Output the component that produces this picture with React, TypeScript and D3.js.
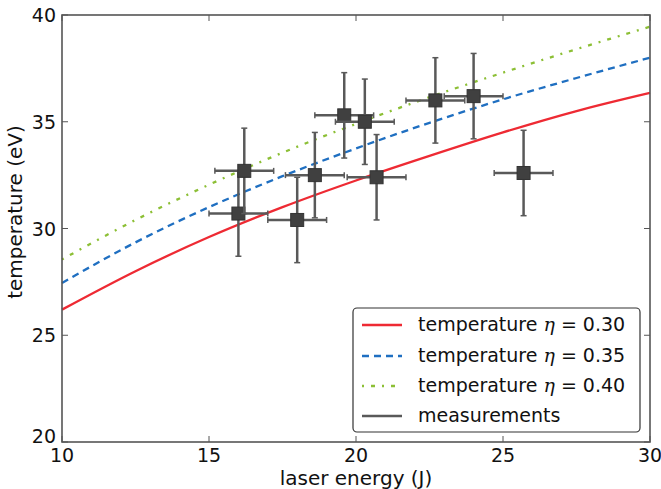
import * as d3 from 'd3'

// measured points (laser energy J, temperature eV)
const energy = [16.0, 16.2, 18.0, 18.6, 19.6, 20.3, 20.7, 22.7, 24.0, 25.7]
const temperature = [30.7, 32.7, 30.4, 32.5, 35.3, 35.0, 32.4, 36.0, 36.2, 32.6]
const energyErr = 1
const tempErr = 2

// model curves
const curveEnergy = [10, 12.5, 15, 17.5, 20, 22.5, 25, 27.5, 30]
const tempEta30 = [26.2, 28.0, 29.6, 31.0, 32.25, 33.4, 34.5, 35.5, 36.35]
const tempEta35 = [27.45, 29.35, 31.0, 32.45, 33.75, 34.95, 36.05, 37.05, 38.0]
const tempEta40 = [28.55, 30.4, 32.05, 33.55, 34.9, 36.15, 37.3, 38.4, 39.45]

const xTicks = [10, 15, 20, 25, 30]
const yTicks = [20, 25, 30, 35, 40]

const series = [
  { eta: '0.30', values: tempEta30, color: '#ee2a33', dash: '' },
  { eta: '0.35', values: tempEta35, color: '#1f6fc1', dash: '7,5' },
  { eta: '0.40', values: tempEta40, color: '#8cbf35', dash: '2,7,4,7' },
]

const W = 661
const H = 489
const margin = { top: 15, right: 11, bottom: 47, left: 62 }
const font = '"DejaVu Sans", sans-serif'

export default function App() {
  const x = d3.scaleLinear().domain([10, 30]).range([margin.left, W - margin.right])
  const y = d3.scaleLinear().domain([20, 40]).range([H - margin.bottom, margin.top])
  const line = d3.line<[number, number]>()
    .x((d) => x(d[0])).y((d) => y(d[1]))
    .curve(d3.curveMonotoneX)

  const frameColor = '#555'
  const legend = { x: 353, y: 308, w: 287, h: 124 }
  const rowY = [325, 356, 386, 416]

  return (
    <svg width={W} height={H} style={{ position: 'absolute', left: 0, top: 0, background: '#fff' }}>
      {/* model curves */}
      {series.map((s) => (
        <path key={s.eta}
          d={line(curveEnergy.map((e, i) => [e, s.values[i]] as [number, number])) ?? ''}
          fill="none" stroke={s.color} strokeWidth={2.3} strokeDasharray={s.dash} />
      ))}

      {/* error bars and markers */}
      {energy.map((e, i) => {
        const cx = x(e), cy = y(temperature[i])
        const x0 = x(e - energyErr), x1 = x(e + energyErr)
        const y0 = y(temperature[i] - tempErr), y1 = y(temperature[i] + tempErr)
        return (
          <g key={i} stroke="#595959" strokeWidth={2.5}>
            <line x1={x0} x2={x1} y1={cy} y2={cy} />
            <line x1={cx} x2={cx} y1={y0} y2={y1} />
            <line x1={x0} x2={x0} y1={cy - 3} y2={cy + 3} strokeWidth={1.5} />
            <line x1={x1} x2={x1} y1={cy - 3} y2={cy + 3} strokeWidth={1.5} />
            <line x1={cx - 3} x2={cx + 3} y1={y0} y2={y0} strokeWidth={1.5} />
            <line x1={cx - 3} x2={cx + 3} y1={y1} y2={y1} strokeWidth={1.5} />
            <rect x={cx - 6.5} y={cy - 6.5} width={13} height={13} fill="#404040" stroke="#333" strokeWidth={1} />
          </g>
        )
      })}

      {/* ticks on all sides */}
      {xTicks.map((t) => (
        <g key={'x' + t} stroke={frameColor} strokeWidth={1}>
          <line x1={x(t)} x2={x(t)} y1={y(20)} y2={y(20) - 6} />
          <line x1={x(t)} x2={x(t)} y1={y(40)} y2={y(40) + 6} />
        </g>
      ))}
      {yTicks.map((t) => (
        <g key={'y' + t} stroke={frameColor} strokeWidth={1}>
          <line x1={x(10)} x2={x(10) + 6} y1={y(t)} y2={y(t)} />
          <line x1={x(30)} x2={x(30) - 6} y1={y(t)} y2={y(t)} />
        </g>
      ))}
      <rect x={x(10)} y={y(40)} width={x(30) - x(10)} height={y(20) - y(40)}
        fill="none" stroke={frameColor} strokeWidth={1.6} />

      {/* tick labels */}
      {xTicks.map((t) => (
        <text key={'xl' + t} x={x(t)} y={y(20) + 20} textAnchor="middle"
          fontFamily={font} fontSize={19} fill="#111">{t}</text>
      ))}
      {yTicks.map((t, i) => (
        <text key={'yl' + t} x={x(10) - 6} y={y(t) + (i === 0 ? 1 : 7)} textAnchor="end"
          fontFamily={font} fontSize={19} fill="#111">{t}</text>
      ))}

      {/* axis labels */}
      <text x={(x(10) + x(30)) / 2} y={485} textAnchor="middle" fontFamily={font} fontSize={20} fill="#111">
        laser energy (J)
      </text>
      <text transform="translate(22,212) rotate(-90)" textAnchor="middle"
        fontFamily={font} fontSize={20} fill="#111">
        temperature (eV)
      </text>

      {/* legend */}
      <rect x={legend.x} y={legend.y} width={legend.w} height={legend.h} rx={4}
        fill="#fff" stroke="#333" strokeWidth={1.2} />
      {series.map((s, i) => (
        <g key={'lg' + s.eta}>
          <line x1={362} x2={402} y1={rowY[i]} y2={rowY[i]} stroke={s.color} strokeWidth={2.3} strokeDasharray={s.dash} />
          <text x={418} y={rowY[i] + 6} fontFamily={font} fontSize={19} fill="#111">
            temperature <tspan fontFamily='"DejaVu Serif", serif' fontStyle="italic">η</tspan> = {s.eta}
          </text>
        </g>
      ))}
      <line x1={362} x2={402} y1={rowY[3]} y2={rowY[3]} stroke="#595959" strokeWidth={2.5} />
      <text x={418} y={rowY[3] + 6} fontFamily={font} fontSize={19} fill="#111">measurements</text>
    </svg>
  )
}
